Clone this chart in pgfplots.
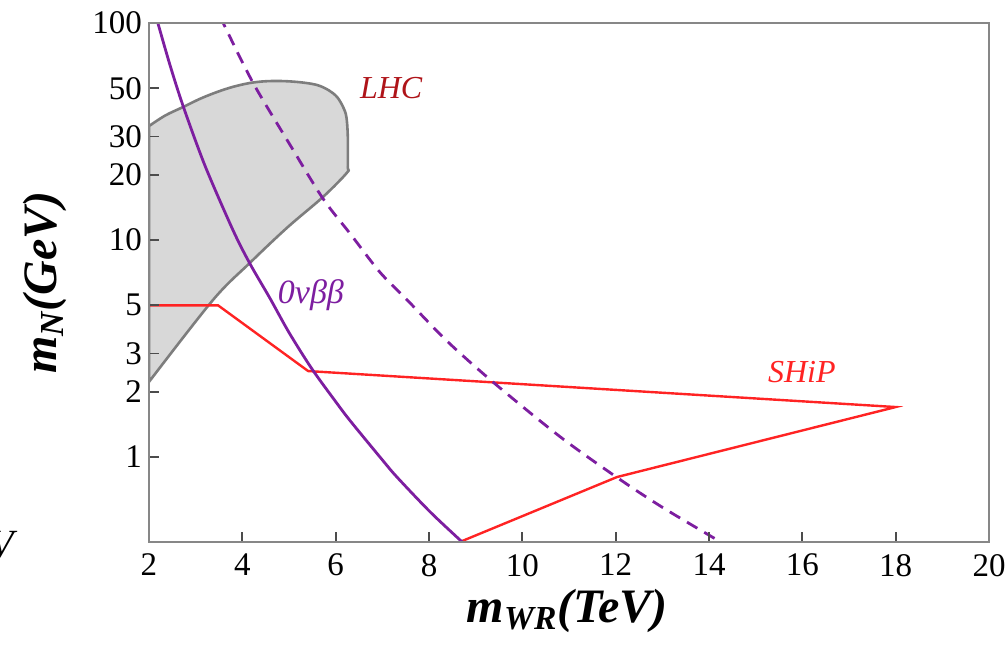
\documentclass[border=0pt]{standalone}
\usepackage{pgfplots}
\pgfplotsset{compat=1.18}
\usepackage{fontspec}
\setmainfont{Liberation Serif}
\definecolor{ppl}{RGB}{125,30,160}
\definecolor{shipred}{RGB}{255,35,35}
\definecolor{lhcred}{RGB}{175,20,25}
\definecolor{regfill}{RGB}{216,216,216}
\definecolor{regline}{RGB}{125,125,125}
\definecolor{axgray}{RGB}{135,135,135}
\begin{document}
\begin{tikzpicture}
\begin{axis}[name=ax, scale only axis, width=420pt, height=259.5pt,
  xmin=2, xmax=20, ymin=0.406, ymax=100, ymode=log,
  xtick={2,4,...,20}, xticklabels={2,4,6,8,10,12,14,16,18,20},
  ytick={1,2,3,5,10,20,30,50,100}, yticklabels={1,2,3,5,10,20,30,50,100},
  yminorticks=false, xminorticks=false,
  tick align=inside, xtick pos=left, ytick pos=left,
  axis line style={axgray, line width=1.2pt},
  major tick style={black!70, line width=0.9pt},
  major tick length=5pt,
  tick label style={font=\fontsize{16.5}{20}\selectfont},
  xticklabel style={yshift=-2.5pt},
  /pgf/number format/assume math mode=true,
  axis on top,
  xlabel={\bfseries\itshape m\textsubscript{WR}(TeV)},
  ylabel={\bfseries\itshape m\textsubscript{N}(GeV)},
  label style={font=\fontsize{24}{28}\selectfont},
  xlabel style={at={(axis description cs:0.498,-0.132)}, anchor=center},
  ylabel style={at={(axis description cs:-0.124,0.5)}, anchor=center},
]
% LHC excluded region
\addplot[fill=regfill, draw=regline, line width=1.3pt, smooth, tension=0.55] coordinates {
  (2,33.5) (2.35,37.5) (2.73,41.0) (3.1,44.8) (3.46,48.1) (3.8,50.8) (4.16,52.9)
  (4.5,53.9) (4.87,54.0) (5.25,53.3) (5.60,51.8) (5.85,49.0)
  (6.03,45.6) (6.16,41.0) (6.23,36.9) (6.26,30.0) (6.26,21.7) (6.24,20.4)
  (5.73,15.8) (4.96,11.4) (4.16,7.84) (3.37,5.29) (2,2.22)
} -- cycle;
% SHiP
\addplot[shipred, line width=1.2pt] coordinates {
  (2,5.0) (3.48,5.0) (5.41,2.49) (18.0,1.70) (12.03,0.809) (8.40,0.385)
};
% 0nubb solid
\addplot[ppl, line width=1.4pt, smooth] coordinates {
  (2.17,104) (2.19,100) (2.45,64) (2.73,41.5) (3.2,22) (3.8,11.1) (4.16,7.8)
  (4.59,5.4) (5.0,3.75) (5.49,2.55) (6.0,1.8) (6.31,1.47) (7.0,0.97)
  (7.31,0.81) (8.02,0.56) (8.71,0.406) (8.75,0.398)
};
% 0nubb dashed
\addplot[ppl, line width=1.4pt, smooth, dash pattern=on 6pt off 4pt] coordinates {
  (3.57,104) (3.59,100) (4.23,53) (5.02,27.5) (5.73,15.5) (6.31,10.7) (6.95,7.1)
  (7.53,5.3) (8.4,3.4) (9.41,2.18) (10.81,1.24) (12.03,0.805)
  (13.01,0.585) (14.30,0.40) (14.35,0.393)
};
\node[text=lhcred, font=\fontsize{16}{19}\selectfont\itshape] at (axis cs:7.19,50.2) {LHC};
\node[text=ppl, font=\fontsize{17}{20}\selectfont\itshape] at (axis cs:5.47,5.58) {0νββ};
\node[text=shipred, font=\fontsize{16}{19}\selectfont\itshape] at (axis cs:15.99,2.46) {SHiP};
\end{axis}
\node[anchor=north east, inner sep=0pt, font=\fontsize{20}{24}\selectfont\itshape]
  at ([xshift=-67.5pt,yshift=5.5pt]ax.south west) {V};
\pgfresetboundingbox
\path ([xshift=-74.5pt,yshift=-54.5pt]ax.south west) rectangle ([xshift=9pt,yshift=11.5pt]ax.north east);
\end{tikzpicture}
\end{document}
